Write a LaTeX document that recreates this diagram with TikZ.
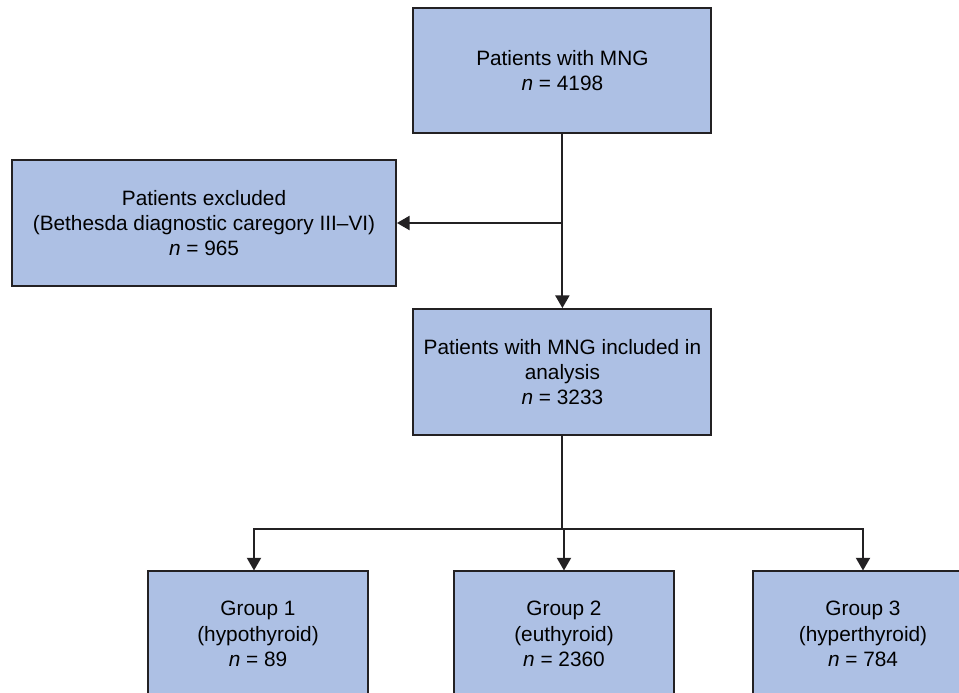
\documentclass[tikz,border=0pt]{standalone}
\usepackage{fontspec}
\setmainfont{Liberation Sans}
\usetikzlibrary{arrows.meta,positioning}
\definecolor{boxblue}{RGB}{173,192,228}
\definecolor{edgegray}{RGB}{35,33,35}

\begin{document}
\begin{tikzpicture}[
  flowbox/.style={draw=edgegray,line width=1.3pt,fill=boxblue,align=center,inner sep=0pt,
    font=\fontsize{14.8}{18}\selectfont,minimum height=3.13cm},
  wide/.style={flowbox,minimum width=7.45cm},
  small/.style={flowbox,minimum width=5.48cm},
  arr/.style={draw=edgegray,line width=1.3pt,-{Triangle[length=9pt,width=10pt]}},
  plain/.style={draw=edgegray,line width=1.3pt}]
\useasboundingbox (0,0) rectangle (23.975,-17.325);
\node[wide] (top) at (14.06,-1.76) {Patients with MNG\\\textit{n} = 4198};
\node[flowbox,minimum width=9.6cm,minimum height=3.15cm] (excl) at (5.1,-5.575) {Patients excluded\\(Bethesda diagnostic caregory III--VI)\\\textit{n} = 965};
\node[wide,minimum height=3.15cm] (mid) at (14.06,-9.3) {Patients with MNG included in\\analysis\\\textit{n} = 3233};
\node[small] (g1) at (6.45,-15.85) {Group 1\\(hypothyroid)\\\textit{n} = 89};
\node[small] (g2) at (14.1,-15.85) {Group 2\\(euthyroid)\\\textit{n} = 2360};
\node[small] (g3) at (21.575,-15.85) {Group 3\\(hyperthyroid)\\\textit{n} = 784};
\coordinate (split) at (14.06,-13.225);
% arrows
\draw[arr] (top) -- (mid);
\draw[arr] (top.south |- excl.east) -- (excl.east);
\draw[plain] (mid) -- (split);
\draw[arr] (split) -| ([xshift=-0.1cm]g1.north);
\draw[arr] (split) -| (g3.north);
\draw[arr] (split -| g2.north) -- (g2.north);
\end{tikzpicture}
\end{document}
